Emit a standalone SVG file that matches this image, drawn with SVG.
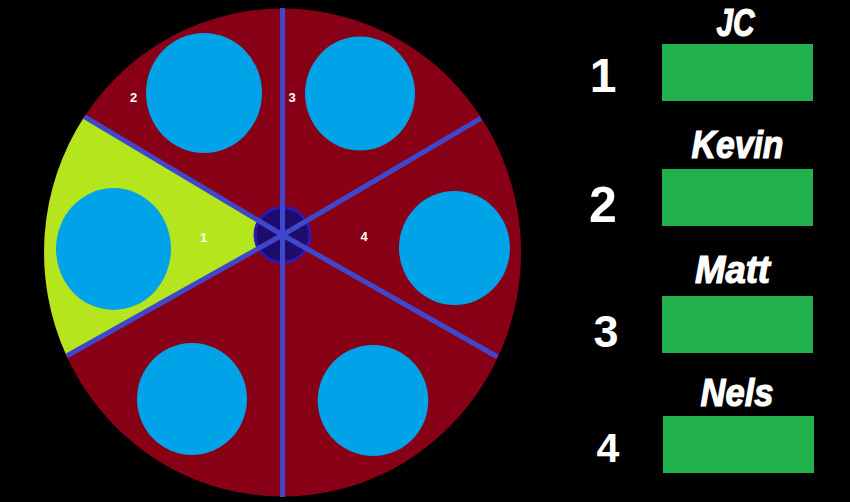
<svg xmlns="http://www.w3.org/2000/svg" width="850" height="502" viewBox="0 0 850 502">
<style>
.pit{fill:#00a2e8}
.spoke{stroke:#3f48cc;stroke-width:5;fill:none}
.small{font-family:"Liberation Sans",Arial,sans-serif;font-weight:bold;font-size:13px;fill:#ffffff;text-anchor:middle}
.num{font-family:"Liberation Sans",Arial,sans-serif;font-weight:bold;fill:#ffffff;text-anchor:middle}
.name{font-family:"Liberation Sans",Arial,sans-serif;font-weight:bold;font-style:italic;font-size:39px;fill:#ffffff;stroke:#ffffff;stroke-width:1.2}
.bar{fill:#22b14c}
</style>
<rect width="850" height="502" fill="#000000"/>
<g id="board">
<ellipse cx="282.5" cy="252.5" rx="238.5" ry="244" fill="#880015"/>
<path d="M282,235 L84.3,116.7 A238.5 244 0 0 0 66.7,356 Z" fill="#b5e61d"/>
</g>
<g id="pits">
<ellipse class="pit" cx="204" cy="93" rx="58" ry="60"/>
<ellipse class="pit" cx="360" cy="93.5" rx="55" ry="57"/>
<ellipse class="pit" cx="113.5" cy="249" rx="57.5" ry="61"/>
<ellipse class="pit" cx="454.5" cy="248" rx="55.5" ry="57"/>
<ellipse class="pit" cx="192" cy="399" rx="55" ry="56"/>
<ellipse class="pit" cx="373" cy="400.5" rx="55.3" ry="55.5"/>
</g>
<g id="sector-labels">
<text class="small" x="133.7" y="101.7">2</text>
<text class="small" x="292" y="101.7">3</text>
<text class="small" x="203.5" y="242">1</text>
<text class="small" x="364" y="241">4</text>
</g>
<g id="hub">
<circle cx="282.5" cy="235" r="27.5" fill="#1d0c6b" stroke="#3318b0" stroke-width="3"/>
</g>
<g id="spokes">
<line class="spoke" x1="282.5" y1="8" x2="282.5" y2="497"/>
<line class="spoke" x1="282.5" y1="235" x2="84.3" y2="116.7"/>
<line class="spoke" x1="282.5" y1="235" x2="66.7" y2="356"/>
<line class="spoke" x1="282.5" y1="235" x2="480.7" y2="118.3"/>
<line class="spoke" x1="282.5" y1="235" x2="497.3" y2="356.7"/>
</g>
<g id="player-1">
<text class="name" x="716.5" y="36" textLength="38" lengthAdjust="spacingAndGlyphs">JC</text>
<text class="num" x="603" y="92" font-size="48">1</text>
<rect class="bar" x="662" y="44" width="151" height="57"/>
</g>
<g id="player-2">
<text class="name" x="691.5" y="158" textLength="92" lengthAdjust="spacingAndGlyphs">Kevin</text>
<text class="num" x="603" y="222" font-size="50">2</text>
<rect class="bar" x="662" y="169" width="151" height="57"/>
</g>
<g id="player-3">
<text class="name" x="695" y="282.5" textLength="75" lengthAdjust="spacingAndGlyphs">Matt</text>
<text class="num" x="606" y="347" font-size="45">3</text>
<rect class="bar" x="662" y="296" width="151" height="57"/>
</g>
<g id="player-4">
<text class="name" x="700.5" y="406" textLength="73" lengthAdjust="spacingAndGlyphs">Nels</text>
<text class="num" x="608" y="462" font-size="41">4</text>
<rect class="bar" x="663" y="416" width="151" height="57"/>
</g>
</svg>
